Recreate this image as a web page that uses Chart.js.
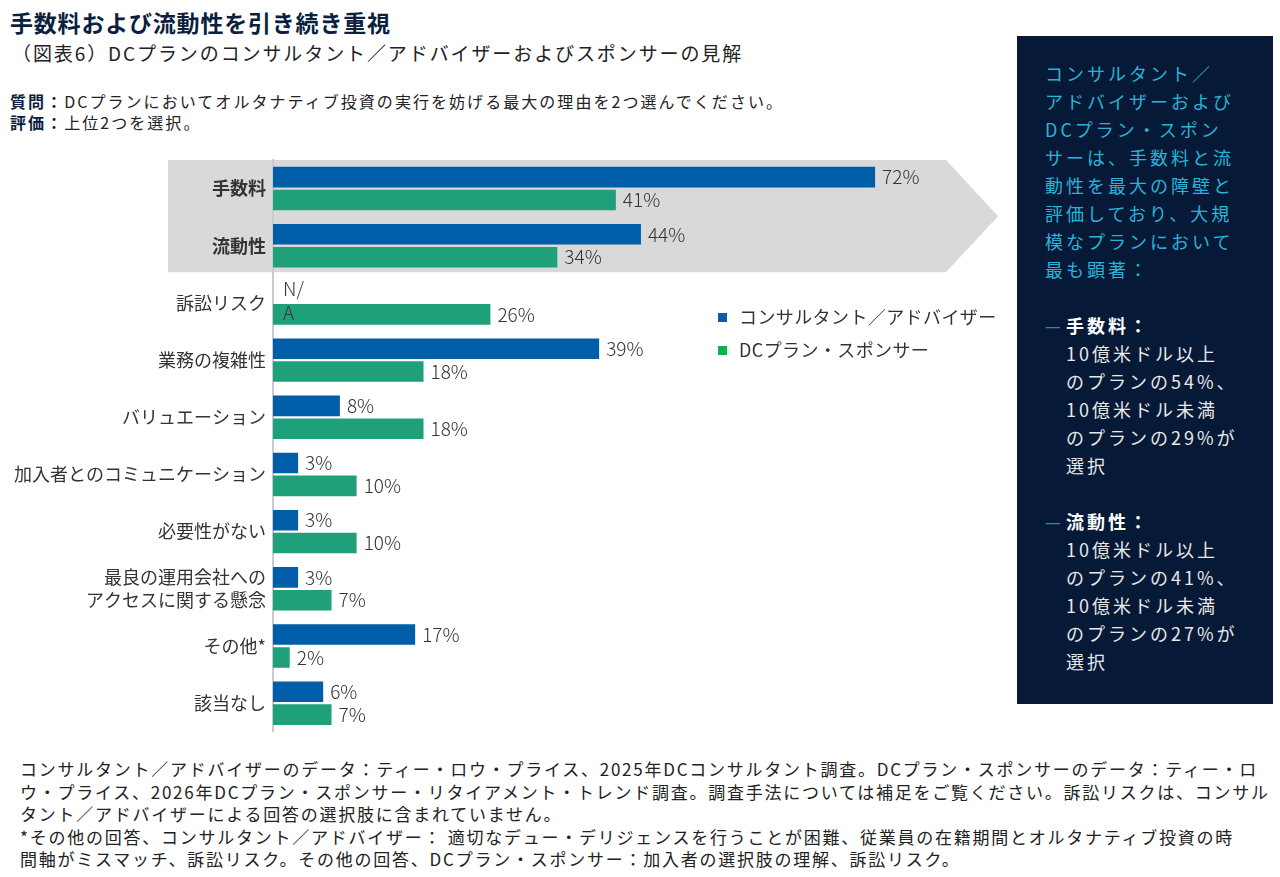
<!DOCTYPE html>
<html lang="ja">
<head>
<meta charset="utf-8">
<script src="https://cdn.jsdelivr.net/npm/chart.js@4.4.1/dist/chart.umd.min.js"></script>
<style>
  body { margin: 0; background: #fff; font-family: "Noto Sans CJK JP", "Noto Sans", sans-serif; color: #222; }
  .page { position: relative; width: 1280px; height: 877px; overflow: hidden; }
  .title { position: absolute; left: 10px; top: 5px; font-size: 23px; font-weight: bold; color: #0b1f3f; letter-spacing: 0.8px; }
  .subtitle { position: absolute; left: 12px; top: 39px; font-size: 19px; color: #222; letter-spacing: 1.9px; }
  .question { position: absolute; left: 10px; top: 91px; font-size: 16px; line-height: 21px; color: #222; letter-spacing: 2.05px; }
  .question b { color: #0b1f3f; }
  #chartBox { position: absolute; left: 0; top: 140px; }
  .legend { position: absolute; left: 718px; top: 303px; font-size: 18px; color: #333; letter-spacing: 0.4px; }
  .legend div { height: 33px; line-height: 26px; }
  .legend span { display: inline-block; width: 9px; height: 9px; margin-right: 12px; vertical-align: 2px; }
  .panel { position: absolute; left: 1017px; top: 36px; width: 256px; height: 668px; background: #061936; }
  .panel .lead { position: absolute; left: 28px; top: 23px; font-size: 18px; line-height: 28px; color: #27b4d8; letter-spacing: 3px; }
  .panel .item { color: #e8e8e8; padding-left: 21px; position: relative; }
  .panel .item b { color: #fff; }
  .panel .dash { position: absolute; left: 0; top: 0; color: #1a8fb0; letter-spacing: 0; }
  .notes { position: absolute; left: 20px; top: 758px; font-size: 17px; line-height: 22.5px; color: #222; letter-spacing: 1.75px; }
</style>
</head>
<body>
<div class="page">
  <div class="title">手数料および流動性を引き続き重視</div>
  <div class="subtitle">（図表6）DCプランのコンサルタント／アドバイザーおよびスポンサーの見解</div>
  <div class="question"><b>質問：</b>DCプランにおいてオルタナティブ投資の実行を妨げる最大の理由を2つ選んでください。<br><b>評価：</b>上位2つを選択。</div>

  <div id="chartBox"><canvas id="barChart" width="1010" height="610"></canvas></div>

  <div class="legend">
    <div><span style="background:#0a5ca8"></span>コンサルタント／アドバイザー</div>
    <div><span style="background:#14b050"></span>DCプラン・スポンサー</div>
  </div>

  <div class="panel">
    <div class="lead">
      コンサルタント／<br>アドバイザーおよび<br>DCプラン・スポン<br>サーは、手数料と流<br>動性を最大の障壁と<br>評価しており、大規<br>模なプランにおいて<br>最も顕著：<br><br>
      <div class="item"><span class="dash">—</span><b>手数料：</b><br>10億米ドル以上<br>のプランの54%、<br>10億米ドル未満<br>のプランの29%が<br>選択</div>
      <br>
      <div class="item"><span class="dash">—</span><b>流動性：</b><br>10億米ドル以上<br>のプランの41%、<br>10億米ドル未満<br>のプランの27%が<br>選択</div>
    </div>
  </div>

  <div class="notes">
    コンサルタント／アドバイザーのデータ：ティー・ロウ・プライス、2025年DCコンサルタント調査。DCプラン・スポンサーのデータ：ティー・ロ<br>
    ウ・プライス、2026年DCプラン・スポンサー・リタイアメント・トレンド調査。調査手法については補足をご覧ください。訴訟リスクは、コンサル<br>
    タント／アドバイザーによる回答の選択肢に含まれていません。<br>
    *その他の回答、コンサルタント／アドバイザー： 適切なデュー・デリジェンスを行うことが困難、従業員の在籍期間とオルタナティブ投資の時<br>
    間軸がミスマッチ、訴訟リスク。その他の回答、DCプラン・スポンサー：加入者の選択肢の理解、訴訟リスク。
  </div>
</div>

<script>
const categories = [
  '手数料',
  '流動性',
  '訴訟リスク',
  '業務の複雑性',
  'バリュエーション',
  '加入者とのコミュニケーション',
  '必要性がない',
  ['最良の運用会社への', 'アクセスに関する懸念'],
  'その他*',
  '該当なし'
];
const consultantValues = [72, 44, null, 39, 8, 3, 3, 3, 17, 6];
const sponsorValues = [41, 34, 26, 18, 18, 10, 10, 7, 2, 7];
const seriesNames = ['コンサルタント／アドバイザー', 'DCプラン・スポンサー'];

const blue = '#005ea8';
const green = '#20a07a';
const labelFont = '"Noto Sans CJK JP", "Noto Sans", sans-serif';

// gray arrow behind the first two categories
const arrowBackground = {
  id: 'arrowBackground',
  beforeDraw(chart) {
    const { ctx, chartArea, scales } = chart;
    const step = scales.y.getPixelForValue(1) - scales.y.getPixelForValue(0);
    const top = chartArea.top;
    const bottom = scales.y.getPixelForValue(1) + step / 2 - 2;
    const left = 168;
    const shoulder = 946;
    const tip = 998;
    ctx.save();
    ctx.fillStyle = '#d9d9d9';
    ctx.beginPath();
    ctx.moveTo(left, top);
    ctx.lineTo(shoulder, top);
    ctx.lineTo(tip, (top + bottom) / 2);
    ctx.lineTo(shoulder, bottom);
    ctx.lineTo(left, bottom);
    ctx.closePath();
    ctx.fill();
    ctx.restore();
  }
};

// percentage labels at the end of each bar
const valueLabels = {
  id: 'valueLabels',
  afterDatasetsDraw(chart) {
    const ctx = chart.ctx;
    ctx.save();
    ctx.font = '300 19px ' + labelFont;
    ctx.fillStyle = '#333';
    ctx.textBaseline = 'middle';
    chart.data.datasets.forEach((ds, di) => {
      const meta = chart.getDatasetMeta(di);
      meta.data.forEach((bar, i) => {
        const v = ds.data[i];
        if (v === null) {
          const x = chart.chartArea.left + 10;
          ctx.fillText('N/', x, bar.y - 3);
          ctx.fillText('A', x, bar.y + 21);
        } else {
          ctx.fillText(v + '%', bar.x + 7, bar.y);
        }
      });
    });
    ctx.restore();
  }
};

const ctx = document.getElementById('barChart').getContext('2d');

const barChart = new Chart(ctx, {
  type: 'bar',
  data: {
    labels: categories,
    datasets: [
      { label: seriesNames[0], data: consultantValues, backgroundColor: blue },
      { label: seriesNames[1], data: sponsorValues, backgroundColor: green }
    ]
  },
  options: {
    indexAxis: 'y',
    responsive: false,
    animation: false,
    categoryPercentage: 0.8,
    barPercentage: 0.9,
    layout: { padding: { top: 20, right: 68, bottom: 9, left: 0 } },
    plugins: {
      legend: { display: false },
      tooltip: { enabled: false }
    },
    scales: {
      x: { display: false, min: 0, max: 80 },
      y: {
        afterFit: (scale) => { scale.width = 273; },
        grid: { display: false, drawTicks: false },
        border: { display: true, color: '#c8ccd2', width: 2 },
        ticks: {
          color: '#333',
          padding: 7,
          font: (c) => ({ family: labelFont, size: 18, weight: c.index < 2 ? 'bold' : 'normal', lineHeight: 1.25 })
        }
      }
    }
  },
  plugins: [arrowBackground, valueLabels]
});
</script>
</body>
</html>
